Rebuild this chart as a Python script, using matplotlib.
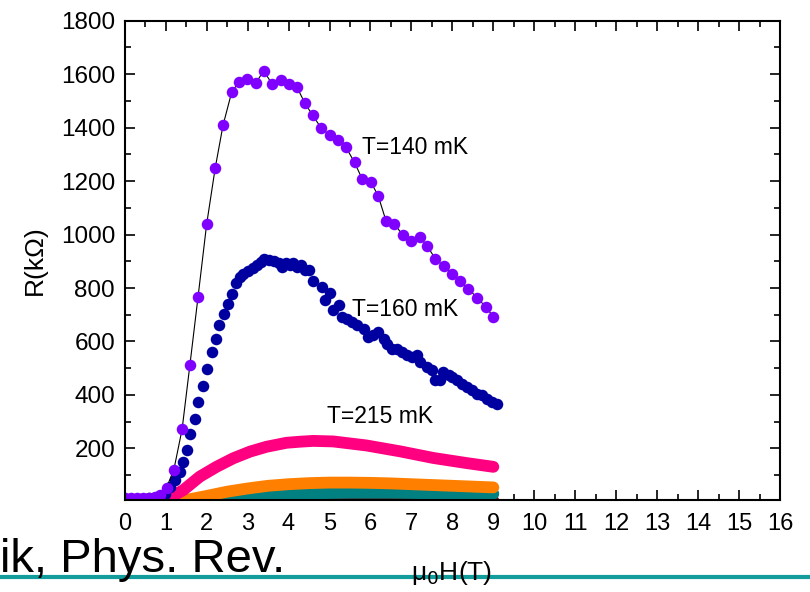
import matplotlib
matplotlib.use("Agg")
import matplotlib.pyplot as plt
from matplotlib.lines import Line2D
from matplotlib.ticker import MultipleLocator

plt.rcParams["font.family"] = ["Liberation Sans", "DejaVu Sans"]

# T = 140 mK
h_140 = [0.0, 0.15, 0.3, 0.45, 0.6, 0.75, 0.86, 1.02, 1.20, 1.40, 1.59, 1.79,
         2.0, 2.21, 2.40, 2.61, 2.79, 2.99, 3.20, 3.39, 3.60, 3.81, 4.01, 4.20,
         4.40, 4.59, 4.79, 5.0, 5.20, 5.40, 5.61, 5.80, 6.01, 6.19, 6.38, 6.58,
         6.79, 6.99, 7.20, 7.39, 7.58, 7.79, 7.99, 8.19, 8.39, 8.60, 8.82, 9.0]
r_140 = [16, 16, 16, 16, 16, 17, 25, 53, 121, 271, 511, 767,
         1039, 1250, 1409, 1532, 1572, 1582, 1566, 1613, 1563, 1578, 1563, 1553,
         1491, 1446, 1400, 1372, 1354, 1327, 1270, 1207, 1197, 1144, 1051, 1041,
         997, 976, 991, 956, 910, 882, 854, 825, 797, 764, 729, 692]

# T = 160 mK
h_160 = [0.0, 0.15, 0.3, 0.45, 0.6, 0.75, 0.88, 0.98, 1.10, 1.22, 1.34, 1.43,
         1.51, 1.59, 1.71, 1.79, 1.90, 2.01, 2.12, 2.22, 2.31, 2.42, 2.51, 2.62,
         2.71, 2.81, 2.89, 3.02, 3.12, 3.22, 3.32, 3.41, 3.53, 3.64, 3.77, 3.83,
         3.94, 4.03, 4.12, 4.20, 4.30, 4.40, 4.51, 4.59, 4.81, 4.89, 5.00, 5.09,
         5.22, 5.30, 5.42, 5.54, 5.66, 5.83, 5.95, 6.07, 6.19, 6.32, 6.40, 6.52,
         6.64, 6.76, 6.89, 7.01, 7.13, 7.21, 7.38, 7.50, 7.58, 7.70, 7.78, 7.91,
         7.99, 8.11, 8.23, 8.35, 8.48, 8.60, 8.72, 8.84, 8.96, 9.09]
r_160 = [12, 12, 12, 12, 13, 15, 20, 30, 55, 80, 111, 149,
         195, 252, 311, 372, 433, 498, 561, 611, 660, 704, 742, 777,
         817, 842, 854, 864, 873, 885, 898, 909, 904, 902, 894, 879,
         892, 885, 892, 879, 885, 867, 869, 826, 804, 754, 782, 717,
         735, 692, 685, 673, 661, 648, 617, 623, 636, 611, 592, 573,
         573, 561, 548, 542, 548, 523, 504, 492, 454, 454, 486, 473,
         467, 454, 442, 429, 417, 404, 398, 386, 373, 367]

# T = 215 mK
h_215 = [0.9, 1.43, 1.83, 2.24, 2.65, 3.06, 3.46, 3.95, 4.28, 4.6, 5.09,
         5.9, 6.72, 7.54, 8.35, 9.0]
r_215 = [0, 44, 94, 131, 163, 188, 206, 221, 225, 228, 226,
         211, 189, 164, 145, 131]

# higher temperatures (unlabelled)
h_hi = [1.2, 1.6, 2.0, 2.5, 3.0, 3.5, 4.0, 4.5, 5.0, 5.5, 6.0, 6.5, 7.0,
        7.5, 8.0, 8.5, 9.0]
r_orange = [0, 10, 22, 38, 50, 60, 66, 70, 72, 72, 71, 69, 66, 63, 60, 57, 54]
r_teal = [-10, -4, 4, 10, 17, 23, 27, 30, 33, 34, 34, 34, 33, 32, 31, 30, 30]
r_maroon = [-25, -20, -14, -8, -3, 0, 2, 3, 4, 4, 4, 4, 4, 4, 4, 4, 4]
r_black = [-30, -28, -26, -24, -22, -20, -18, -16, -15, -14, -13, -12, -11,
           -9, -9, -12, -14]
r_magenta = [-30, -28, -26, -24, -22, -20, -18, -16, -15, -14, -13, -12, -12,
             -12, -11, -9, -9]

labels = ["T=140 mK", "T=160 mK", "T=215 mK"]
label_pos = [(7.09, 1326), (6.85, 721), (6.23, 321)]

fig = plt.figure(figsize=(8.1, 5.92), dpi=100)
ax = fig.add_axes([0.154, 0.155, 0.809, 0.81])

band = dict(lw=8.5, solid_capstyle="round", solid_joinstyle="round")
ax.plot(h_hi, r_magenta, color="#ff00ff", **band)
ax.plot(h_hi, r_black, color="black", **band)
ax.plot(h_hi, r_maroon, color="#800000", **band)
ax.plot(h_hi, r_teal, color="#008080", **band)
ax.plot(h_hi, r_orange, color="#ff8000", **band)
ax.plot(h_215, r_215, color="#ff0080", **band)

ax.plot(h_160, r_160, "o", color="#0000a0", ms=8.3, mec="none")
ax.plot(h_140, r_140, "-", color="black", lw=0.8)
ax.plot(h_140, r_140, "o", color="#8000ff", ms=8.3, mec="none")

for txt, (x, y) in zip(labels, label_pos):
    ax.text(x, y, txt, fontsize=16.5, ha="center", va="center")

ax.set_xlim(0, 16)
ax.set_ylim(6, 1800)
ax.xaxis.set_major_locator(MultipleLocator(1))
ax.xaxis.set_minor_locator(MultipleLocator(0.5))
ax.yaxis.set_major_locator(MultipleLocator(200))
ax.yaxis.set_minor_locator(MultipleLocator(100))
ax.tick_params(which="both", direction="in", top=True, right=True, width=1.2)
ax.tick_params(which="major", length=7)
ax.tick_params(which="minor", length=4)
ax.tick_params(axis="y", labelsize=17.5, pad=7)
ax.tick_params(axis="x", labelsize=17, pad=9)
for s in ax.spines.values():
    s.set_linewidth(1.5)

ax.set_ylabel("R(k\u03a9)", fontsize=19, labelpad=10)

# slide residue below the chart
fig.add_artist(Line2D([0, 1], [1 - 576.5 / 592] * 2, color="#129c9c", lw=3,
                      zorder=1))
fig.text(0.0, 1 - 571.5 / 592, "ik, Phys. Rev.", fontsize=34, va="baseline",
         ha="left", zorder=2)
fig.text(0.558, 1 - 580 / 592, "\u03bc$_0$H(T)", fontsize=19, va="baseline",
         ha="center", zorder=3)

fig.savefig("out.png", dpi=100)
